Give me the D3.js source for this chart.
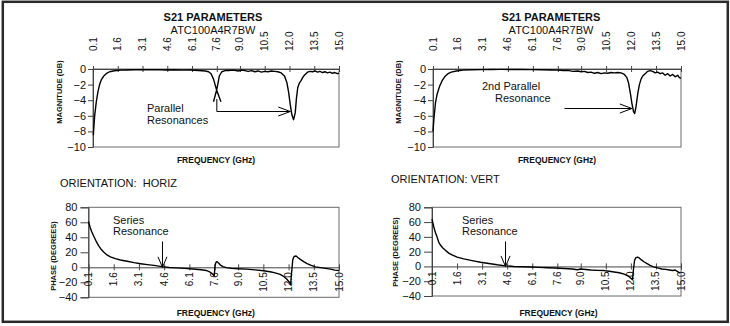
<!DOCTYPE html>
<html><head><meta charset="utf-8">
<script src="https://cdn.jsdelivr.net/npm/d3@7"></script>
<style>
html,body{margin:0;padding:0;background:#fff;}
svg{display:block;}
text{font-family:"Liberation Sans",Arial,Helvetica,sans-serif;fill:#111;}
</style></head>
<body>
<svg id="chart" width="730" height="326"></svg>
<script>
// ---------- data ----------
const chartTitle = "S21 PARAMETERS";
const partNumber = "ATC100A4R7BW";
const freqTicks = [0.1, 1.6, 3.1, 4.6, 6.1, 7.6, 9.0, 10.5, 12.0, 13.5, 15.0];
const freqTickLabels = ["0.1","1.6","3.1","4.6","6.1","7.6","9.0","10.5","12.0","13.5","15.0"];
const magTicks = [0, -2, -4, -6, -8, -10];
const phaseTicks = [80, 60, 40, 20, 0, -20, -40];

// HORIZ magnitude (dB) — null splits the trace at the crossing near 7.6 GHz
const magHorizFreq = [0.12,0.2,0.3,0.4,0.5,0.6,0.75,0.9,1.1,1.4,1.8,2.2,2.6,3.0,3.5,4.0,4.5,5.0,5.5,6.0,6.5,6.9,7.1,7.25,7.4,7.6,7.85,
  null,
  7.4,7.6,7.75,7.9,8.1,8.3,8.6,8.9,9.1,9.3,9.5,9.7,9.9,10.1,10.3,10.5,10.7,10.9,11.1,11.3,11.5,11.7,11.85,11.95,12.05,12.15,12.25,12.35,12.42,12.5,12.6,12.7,12.8,12.9,13.0,13.1,13.25,13.4,13.55,13.7,13.85,14.0,14.15,14.3,14.45,14.6,14.75,14.9,15.0];
const magHorizDb = [-8.5,-6.0,-4.2,-2.9,-2.0,-1.4,-0.9,-0.6,-0.35,-0.22,-0.15,-0.12,-0.1,-0.08,-0.1,-0.08,-0.12,-0.1,-0.15,-0.12,-0.2,-0.25,-0.35,-0.6,-1.3,-2.8,-4.2,
  null,
  -4.2,-2.6,-0.9,-0.35,-0.2,-0.2,-0.15,-0.25,-0.15,-0.2,-0.3,-0.2,-0.35,-0.25,-0.4,-0.3,-0.35,-0.25,-0.3,-0.35,-0.5,-0.9,-1.8,-3.0,-4.6,-5.9,-6.5,-5.6,-3.8,-2.4,-1.8,-1.5,-1.1,-0.8,-0.6,-0.4,-0.3,-0.35,-0.25,-0.4,-0.3,-0.45,-0.35,-0.5,-0.4,-0.55,-0.45,-0.6,-0.55];

// VERT magnitude (dB)
const magVertFreq = [0.1,0.15,0.25,0.35,0.5,0.65,0.8,1.0,1.2,1.5,1.9,2.4,3.0,3.6,4.2,4.8,5.4,6.0,6.6,7.2,7.6,7.9,8.2,8.5,8.8,9.0,9.2,9.4,9.6,9.8,10.0,10.2,10.4,10.6,10.8,11.0,11.2,11.4,11.6,11.75,11.85,11.95,12.05,12.15,12.22,12.3,12.4,12.5,12.6,12.7,12.85,13.0,13.15,13.3,13.45,13.6,13.75,13.9,14.05,14.2,14.35,14.5,14.65,14.8,14.9,15.0];
const magVertDb = [-8.0,-6.5,-4.3,-3.2,-2.2,-1.5,-1.0,-0.6,-0.4,-0.25,-0.15,-0.1,-0.08,-0.06,-0.05,-0.06,-0.05,-0.08,-0.1,-0.12,-0.15,-0.2,-0.18,-0.3,-0.25,-0.35,-0.3,-0.45,-0.4,-0.55,-0.45,-0.6,-0.5,-0.55,-0.45,-0.5,-0.45,-0.5,-0.7,-1.1,-1.8,-3.0,-4.4,-5.5,-5.7,-4.8,-3.2,-2.0,-1.3,-0.9,-0.6,-0.3,-0.2,-0.3,-0.5,-0.4,-0.6,-0.5,-0.8,-0.6,-0.9,-0.7,-1.0,-0.8,-1.1,-1.2];

// HORIZ phase (degrees)
const phaseHorizFreq = [0.1,0.2,0.3,0.4,0.55,0.7,0.85,1.0,1.2,1.4,1.7,2.0,2.4,2.8,3.2,3.6,4.0,4.45,4.9,5.3,5.8,6.3,6.8,7.1,7.3,7.45,7.58,7.63,7.68,7.75,7.85,7.95,8.1,8.3,8.6,9.0,9.5,10.0,10.5,10.9,11.2,11.5,11.7,11.9,12.05,12.12,12.17,12.25,12.33,12.45,12.55,12.7,12.9,13.1,13.35,13.6,13.9,14.2,14.5,14.75,15.0];
const phaseHorizDeg = [61,53,47,42,35,29,24,20.5,16.5,14,11.5,9.7,8,6.2,4.8,3.6,2.5,0.9,-0.2,-0.8,-1.4,-2.2,-3.2,-4.2,-6,-8.5,-11,3,6.5,7.5,5.5,3,1,-0.5,-1.5,-2,-2.5,-3.5,-4.6,-6,-7.5,-9.5,-12,-16,-20,-23,-10,10,14.5,15,13,10.5,7.5,5,2.5,0.5,-0.5,-1.5,-2.5,-3.8,-4.5];

// VERT phase (degrees)
const phaseVertFreq = [0.1,0.2,0.3,0.4,0.5,0.6,0.75,0.9,1.1,1.3,1.6,2.0,2.5,3.0,3.5,4.0,4.5,5.0,5.5,6.0,6.5,7.0,7.5,8.0,8.5,8.8,9.0,9.3,9.6,10.0,10.4,10.7,11.0,11.3,11.6,11.85,12.0,12.1,12.15,12.22,12.3,12.4,12.5,12.65,12.8,12.95,13.15,13.35,13.6,13.85,14.1,14.3,14.5,14.65,14.8,14.95];
const phaseVertDeg = [64,54,46,40,33,29,25,22,18,15.5,12.5,10.2,7.8,5.6,4,2.2,0.8,0,-0.5,-0.8,-1.3,-1.8,-2.2,-2.8,-3.5,-4.5,-3.5,-4.2,-4.8,-5.3,-5.6,-6.5,-7.5,-8.5,-10.5,-13,-16,-18,-5,8,12,12.5,11.5,8.5,6,4,1.5,-0.5,-2,-3.5,-4,-4.8,-5.5,-4.8,-7,-9];

// ---------- drawing ----------
const svg = d3.select("#chart");
const FONT = '"Liberation Sans",Arial,Helvetica,sans-serif';

// outer frame
svg.append("rect").attr("x",2.8).attr("y",1.8).attr("width",725).attr("height",320)
  .attr("fill","none").attr("stroke","#2a2a2a").attr("stroke-width",2.5);

function pairs(fs, vs){ return fs.map((f,i)=> f===null ? null : [f, vs[i]]); }

function magPanel(o){
  const g = svg.append("g");
  const x = d3.scaleLinear().domain([0.1,15]).range([o.x0,o.x1]);
  const y = d3.scaleLinear().domain([0,-10]).range([o.y0,o.y1]);
  // box
  g.append("rect").attr("x",o.x0).attr("y",o.y0).attr("width",o.x1-o.x0).attr("height",o.y1-o.y0)
    .attr("fill","none").attr("stroke","#6a6a6a").attr("stroke-width",1);
  // left axis
  const ya = g.append("g").attr("transform",`translate(${o.x0},0)`)
    .call(d3.axisLeft(y).tickValues(magTicks).tickFormat(d3.format("d")).tickSize(5).tickPadding(2));
  ya.select(".domain").attr("stroke","#444");
  ya.selectAll(".tick line").attr("stroke","#444");
  ya.selectAll("text").attr("font-size","11px").attr("font-family",FONT).attr("fill","#111");
  // zero line / x ticks
  const xa = g.append("g").attr("transform",`translate(0,${y(0)})`)
    .call(d3.axisTop(x).tickValues(freqTicks).tickSize(3).tickFormat(""));
  xa.select(".domain").attr("stroke","#444");
  xa.selectAll(".tick line").attr("y2",3).attr("y1",-3).attr("stroke","#444");
  g.selectAll("text.xl").data(freqTicks).join("text").attr("class","xl")
    .attr("transform",(d)=>`translate(${x(d)},${y(0)-18}) rotate(-90)`)
    .attr("dy","0.35em").attr("text-anchor","start").attr("font-size","10px")
    .text((d,i)=>freqTickLabels[i]);
  // trace
  const line = d3.line().defined(d=>d!==null).x(d=>x(d[0])).y(d=>y(d[1]));
  g.append("path").datum(pairs(o.fs,o.vs)).attr("d",line)
    .attr("fill","none").attr("stroke","#000").attr("stroke-width",1.4).attr("stroke-linejoin","round");
  // titles
  g.append("text").attr("x",o.tx).attr("y",20.5).attr("text-anchor","middle")
    .attr("font-size","11px").attr("font-weight","bold").text(chartTitle);
  g.append("text").attr("x",o.tx).attr("y",34).attr("text-anchor","middle")
    .attr("font-size","11px").text(partNumber);
  g.append("text").attr("transform",`translate(${o.ylx},${o.yly}) rotate(-90)`)
    .attr("text-anchor","middle").attr("font-size","7.5px").attr("font-weight","bold").text("MAGNITUDE (DB)");
  g.append("text").attr("x",(o.x0+o.x1)/2).attr("y",163).attr("text-anchor","middle")
    .attr("font-size","8.5px").attr("font-weight","bold").text("FREQUENCY (GHz)");
  return {g,x,y};
}

function phasePanel(o){
  const g = svg.append("g");
  const x = d3.scaleLinear().domain([0.1,15]).range([o.x0,o.x1]);
  const y = d3.scaleLinear().domain([80,-40]).range([o.y0,o.y1]);
  g.append("rect").attr("x",o.x0).attr("y",o.y0).attr("width",o.x1-o.x0).attr("height",o.y1-o.y0)
    .attr("fill","none").attr("stroke","#6a6a6a").attr("stroke-width",1);
  const ya = g.append("g").attr("transform",`translate(${o.x0},0)`)
    .call(d3.axisLeft(y).tickValues(phaseTicks).tickFormat(d3.format("d")).tickSize(8).tickPadding(3));
  ya.select(".domain").attr("stroke","#444");
  ya.selectAll(".tick line").attr("stroke","#444");
  ya.selectAll("text").attr("font-size","11px").attr("font-family",FONT).attr("fill","#111");
  const xa = g.append("g").attr("transform",`translate(0,${y(0)})`)
    .call(d3.axisBottom(x).tickValues(freqTicks).tickSize(3).tickFormat(""));
  xa.select(".domain").attr("stroke","#444");
  xa.selectAll(".tick line").attr("y1",-3).attr("y2",3).attr("stroke","#444");
  g.selectAll("text.xl").data(freqTicks).join("text").attr("class","xl")
    .attr("transform",(d)=>`translate(${x(d)},${y(0)+5}) rotate(-90)`)
    .attr("dy","0.35em").attr("text-anchor","end").attr("font-size","10px")
    .text((d,i)=>freqTickLabels[i]);
  const line = d3.line().x(d=>x(d[0])).y(d=>y(d[1]));
  g.append("path").datum(pairs(o.fs,o.vs)).attr("d",line)
    .attr("fill","none").attr("stroke","#000").attr("stroke-width",1.4).attr("stroke-linejoin","round");
  g.append("text").attr("transform",`translate(${o.ylx},${o.yly}) rotate(-90)`)
    .attr("text-anchor","middle").attr("font-size","7.5px").attr("font-weight","bold").text("PHASE (DEGREES)");
  g.append("text").attr("x",(o.x0+o.x1)/2+2).attr("y",316).attr("text-anchor","middle")
    .attr("font-size","8.5px").attr("font-weight","bold").text("FREQUENCY (GHz)");
  return {g,x,y};
}

function openArrow(g, pts, head, dir){
  g.append("path").attr("d",d3.line()(pts)).attr("fill","none").attr("stroke","#000").attr("stroke-width",1);
  g.append("path").attr("d",d3.line()(head)).attr("fill","none").attr("stroke","#000").attr("stroke-width",1);
}

// ---- top-left (HORIZ magnitude)
const tl = magPanel({x0:93,x1:339,y0:69,y1:147,fs:magHorizFreq,vs:magHorizDb,tx:213,ylx:62,yly:92});
tl.g.append("text").attr("x",147).attr("y",112).attr("font-size","11px").text("Parallel");
tl.g.append("text").attr("x",147).attr("y",124).attr("font-size","11px").text("Resonances");
{
  const ax = tl.x(7.6), ay = 111.5, bx = tl.x(12.05);
  openArrow(tl.g, [[ax,99],[ax,ay],[bx,ay]], [[bx-12,ay-4.5],[bx,ay],[bx-12,ay+4.5]]);
}

// ---- top-right (VERT magnitude)
const tr = magPanel({x0:433,x1:681,y0:69,y1:147,fs:magVertFreq,vs:magVertDb,tx:551,ylx:401,yly:92});
tr.g.append("text").attr("x",482).attr("y",90).attr("font-size","11px").text("2nd Parallel");
tr.g.append("text").attr("x",495).attr("y",102).attr("font-size","11px").text("Resonance");
{
  const ay = 108.5, ax = tr.x(8.0), bx = tr.x(12.05);
  openArrow(tr.g, [[ax,ay],[bx,ay]], [[bx-12,ay-4.5],[bx,ay],[bx-12,ay+4.5]]);
}

// ---- orientation labels
svg.append("text").attr("x",60).attr("y",187).attr("font-size","11px").text("ORIENTATION:\u00a0 HORIZ");
svg.append("text").attr("x",391).attr("y",183).attr("font-size","11px").text("ORIENTATION: VERT");

// ---- bottom-left (HORIZ phase)
const bl = phasePanel({x0:88.5,x1:339,y0:207.3,y1:297.3,fs:phaseHorizFreq,vs:phaseHorizDeg,ylx:56,yly:256});
bl.g.append("text").attr("x",113).attr("y",223.5).attr("font-size","11px").text("Series");
bl.g.append("text").attr("x",113).attr("y",235).attr("font-size","11px").text("Resonance");
{
  const ax = bl.x(4.5), ty = bl.y(0);
  openArrow(bl.g, [[ax,241.5],[ax,ty]], [[ax-4.5,ty-10.5],[ax,ty],[ax+4.5,ty-10.5]]);
}

// ---- bottom-right (VERT phase)
const br = phasePanel({x0:432,x1:681,y0:207.3,y1:296,fs:phaseVertFreq,vs:phaseVertDeg,ylx:398,yly:252});
br.g.append("text").attr("x",462).attr("y",223.5).attr("font-size","11px").text("Series");
br.g.append("text").attr("x",462).attr("y",235).attr("font-size","11px").text("Resonance");
{
  const ax = br.x(4.5), ty = br.y(0);
  openArrow(br.g, [[ax,241.5],[ax,ty]], [[ax-4.5,ty-10.5],[ax,ty],[ax+4.5,ty-10.5]]);
}
</script>
</body></html>
